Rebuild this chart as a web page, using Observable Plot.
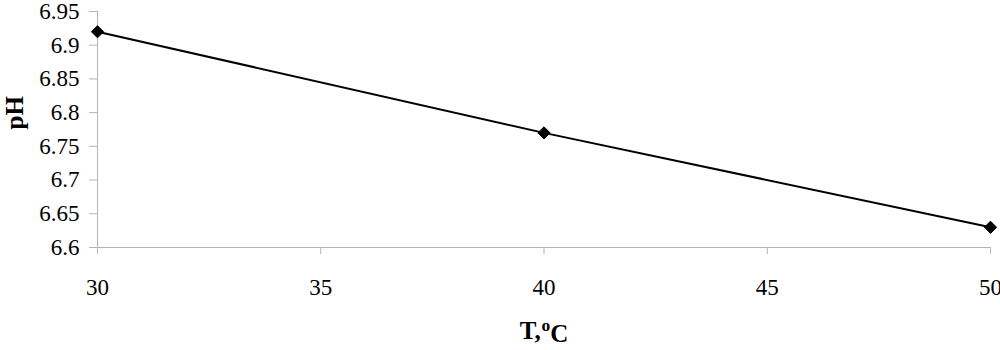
<!DOCTYPE html>
<html>
<head>
<meta charset="utf-8">
<script src="https://cdn.jsdelivr.net/npm/d3@7"></script>
<script src="https://cdn.jsdelivr.net/npm/@observablehq/plot@0.6"></script>
<style>
  html, body { margin: 0; padding: 0; background: white; }
</style>
</head>
<body>
<div id="chart"></div>
<script>
const temps = [30, 40, 50];
const phValues = [6.92, 6.77, 6.63];
const xTicks = [30, 35, 40, 45, 50];
const yTicks = [6.6, 6.65, 6.7, 6.75, 6.8, 6.85, 6.9, 6.95];
const xTitle = "T,oC";
const yTitle = "pH";

const data = temps.map((t, i) => ({t, ph: phValues[i]}));
const axisGray = "#b4b4b4";
const serif = "Liberation Serif";

const chart = Plot.plot({
  width: 1000,
  height: 350,
  marginLeft: 97,
  marginRight: 10,
  marginTop: 11,
  marginBottom: 103,
  style: {fontFamily: serif, fontSize: "23px", background: "white", color: "black"},
  x: {domain: [30, 50]},
  y: {domain: [6.6, 6.95]},
  marks: [
    Plot.ruleX([30], {stroke: axisGray, strokeWidth: 1}),
    Plot.ruleY([6.6], {stroke: axisGray, strokeWidth: 1}),
    Plot.axisY(yTicks, {tickSize: 8, tickPadding: 10, stroke: axisGray, fill: "black", fontSize: 23, fontFamily: serif, label: null, tickFormat: d => String(d)}),
    Plot.axisX(xTicks, {tickSize: 7, tickPadding: 24, stroke: axisGray, fill: "black", fontSize: 23, fontFamily: serif, label: null, tickFormat: d => String(d)}),
    Plot.line(data, {x: "t", y: "ph", stroke: "black", strokeWidth: 2}),
    Plot.dot(data, {x: "t", y: "ph", symbol: "diamond2", r: 5.5, fill: "black", stroke: "black", strokeWidth: 1}),
    Plot.text([yTitle], {frameAnchor: "left", dx: -82.5, rotate: -90, fontWeight: "bold", fontSize: 25, fontFamily: serif, fill: "black"}),
    Plot.text([xTitle], {frameAnchor: "bottom", dy: 91, fontWeight: "bold", fontSize: 25, fontFamily: serif, fill: "black", className: "xtitle"})
  ]
});

document.getElementById("chart").appendChild(chart);

d3.select(chart).selectAll(".xtitle text").each(function() {
  const sel = d3.select(this);
  sel.text(null);
  sel.append("tspan").text("T,");
  sel.append("tspan").attr("dx", "0.05em").attr("dy", "-0.45em").attr("font-size", "0.7em").text("o");
  sel.append("tspan").attr("dy", "0.45em").text("C");
});
</script>
</body>
</html>
